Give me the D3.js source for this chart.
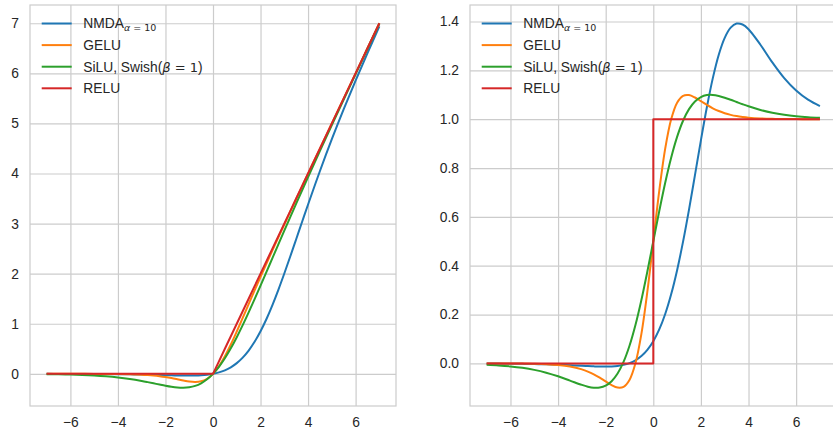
<!DOCTYPE html>
<html>
<head>
<meta charset="utf-8">
<script src="https://cdn.jsdelivr.net/npm/d3@7"></script>
<style>
    body { margin: 0; background: #fff; }
    text { font-family: "Liberation Sans", Arial, sans-serif; fill: #262626; }
</style>
</head>
<body>
<script>
// x positions shared by every series (denser near zero)
let xs = [-7, -6.5, -6, -5.5, -5, -4.5, -4, -3.5,
    -3, -2.75, -2.5, -2.25, -2, -1.75, -1.5, -1.25, -1, -0.75, -0.5, -0.25,
    0, 0.25, 0.5, 0.75, 1, 1.25, 1.5, 1.75, 2, 2.25, 2.5, 2.75, 3,
    3.25, 3.5, 3.75, 4, 4.5, 5, 5.5, 6, 6.5, 7];

// left panel: activation values
let nmda = [-0.0006, -0.0010, -0.0015, -0.0022, -0.0034, -0.0050, -0.0073, -0.0105,
    -0.0149, -0.0175, -0.0204, -0.0235, -0.0267, -0.0299, -0.0327, -0.0348, -0.0355, -0.0338, -0.0286, -0.0181,
    0, 0.0285, 0.0708, 0.1310, 0.2137, 0.3234, 0.4642, 0.6392, 0.8498, 1.0954, 1.3730, 1.6776, 2.0028,
    2.3419, 2.6882, 3.0360, 3.3808, 4.0501, 4.6844, 5.2841, 5.8549, 6.4037, 6.9367];
let gelu = [0, -0.0001, -0.0002, -0.0005, -0.0010, -0.0021, -0.0044, -0.0090,
    -0.0181, -0.0253, -0.0350, -0.0478, -0.0643, -0.0847, -0.1083, -0.1330, -0.1542, -0.1636, -0.1496, -0.0988,
    0, 0.1512, 0.3504, 0.5864, 0.8458, 1.1170, 1.3917, 1.6653, 1.9357, 2.2022, 2.4650, 2.7247, 2.9819,
    3.2372, 3.4910, 3.7437, 3.9956, 4.4979, 4.9990, 5.4995, 5.9998, 6.4999, 7.0];
let silu = [-0.0064, -0.0098, -0.0148, -0.0224, -0.0335, -0.0494, -0.0719, -0.1026,
    -0.1423, -0.1652, -0.1896, -0.2145, -0.2384, -0.2591, -0.2736, -0.2784, -0.2689, -0.2406, -0.1888, -0.1095,
    0, 0.1405, 0.3112, 0.5094, 0.7311, 0.9716, 1.2264, 1.4909, 1.7616, 2.0355, 2.3104, 2.5848, 2.8577,
    3.1287, 3.3974, 3.6638, 3.9281, 4.4506, 4.9665, 5.4776, 5.9852, 6.4902, 6.9936];
let relu = [0, 0, 0, 0, 0, 0, 0, 0,
    0, 0, 0, 0, 0, 0, 0, 0, 0, 0, 0, 0,
    0, 0.25, 0.5, 0.75, 1, 1.25, 1.5, 1.75, 2, 2.25, 2.5, 2.75, 3,
    3.25, 3.5, 3.75, 4, 4.5, 5, 5.5, 6, 6.5, 7];

// right panel: derivatives
let nmdaGrad = [-0.0005, -0.0008, -0.0012, -0.0018, -0.0027, -0.0039, -0.0055, -0.0075,
    -0.0098, -0.0110, -0.0120, -0.0128, -0.0130, -0.0123, -0.0102, -0.0060, 0.0013, 0.0128, 0.0302, 0.0555,
    0.0909, 0.1390, 0.2023, 0.2829, 0.3818, 0.4985, 0.6300, 0.7710, 0.9136, 1.0490, 1.1681, 1.2642, 1.3333,
    1.3749, 1.3916, 1.3877, 1.3686, 1.3050, 1.2326, 1.1682, 1.1174, 1.0800, 1.0536];
let geluGrad = [-0.0001, -0.0002, -0.0003, -0.0007, -0.0015, -0.0031, -0.0064, -0.0127,
    -0.0246, -0.0334, -0.0447, -0.0584, -0.0738, -0.0888, -0.0988, -0.0959, -0.0678, 0.0004, 0.1208, 0.2935,
    0.5, 0.7065, 0.8792, 0.9996, 1.0678, 1.0959, 1.0988, 1.0888, 1.0738, 1.0584, 1.0447, 1.0334, 1.0246,
    1.0178, 1.0127, 1.0091, 1.0064, 1.0031, 1.0015, 1.0007, 1.0003, 1.0002, 1.0001];
let siluGrad = [-0.0055, -0.0082, -0.0123, -0.0182, -0.0265, -0.0379, -0.0527, -0.0703,
    -0.0881, -0.0952, -0.0994, -0.0987, -0.0908, -0.0727, -0.0413, 0.0063, 0.0723, 0.1574, 0.2600, 0.3763,
    0.5, 0.6237, 0.7400, 0.8426, 0.9277, 0.9937, 1.0413, 1.0727, 1.0908, 1.0987, 1.0994, 1.0952, 1.0881,
    1.0795, 1.0703, 1.0612, 1.0527, 1.0379, 1.0265, 1.0182, 1.0123, 1.0082, 1.0055];
let reluGrad = [0, 0, 0, 0, 0, 0, 0, 0,
    0, 0, 0, 0, 0, 0, 0, 0, 0, 0, 0, 0,
    1, 1, 1, 1, 1, 1, 1, 1, 1, 1, 1, 1, 1,
    1, 1, 1, 1, 1, 1, 1, 1, 1, 1];

let names = ["NMDA", "GELU", "SiLU, Swish(", "RELU"];
let colors = ["#1f77b4", "#ff7f0e", "#2ca02c", "#d62728"];

let xTicks = [-6, -4, -2, 0, 2, 4, 6];
let leftYTicks = [0, 1, 2, 3, 4, 5, 6, 7];
let rightYTicks = [0, 0.2, 0.4, 0.6, 0.8, 1.0, 1.2, 1.4];

let plotTop = 5, plotBottom = 406;

let svg = d3.select("body").append("svg")
    .attr("width", 833)
    .attr("height", 434);

function drawPanel(left, right, yDomain, yTicks, yFormat, series, lastCurve) {
    let xScale = d3.scaleLinear().domain([-7.7, 7.7]).range([left, right]);
    let yScale = d3.scaleLinear().domain(yDomain).range([plotBottom, plotTop]);
    let g = svg.append("g");

    // grid + tick labels
    g.append("g")
        .attr("transform", "translate(0," + plotBottom + ")")
        .call(d3.axisBottom(xScale).tickValues(xTicks).tickSize(-(plotBottom - plotTop)).tickPadding(11))
        .call(function (a) { a.select(".domain").remove(); });
    g.append("g")
        .attr("transform", "translate(" + left + ",0)")
        .call(d3.axisLeft(yScale).tickValues(yTicks).tickFormat(yFormat).tickSize(-(right - left)).tickPadding(11))
        .call(function (a) { a.select(".domain").remove(); });
    g.selectAll(".tick line").attr("stroke", "#cccccc").attr("stroke-width", 1.2);
    g.selectAll(".tick text").style("font-size", "13.8px").attr("fill", "#262626")
        .style("font-family", "'Liberation Sans', Arial, sans-serif");

    g.append("rect")
        .attr("x", left).attr("y", plotTop)
        .attr("width", right - left).attr("height", plotBottom - plotTop)
        .attr("fill", "none").attr("stroke", "#cccccc").attr("stroke-width", 1.2);

    series.forEach(function (values, i) {
        let line = d3.line()
            .x(function (d, j) { return xScale(xs[j]); })
            .y(function (d) { return yScale(d); })
            .curve(i === 3 ? lastCurve : d3.curveCatmullRom.alpha(0.5));
        g.append("path")
            .datum(values)
            .attr("fill", "none")
            .attr("stroke", colors[i])
            .attr("stroke-width", 2)
            .attr("stroke-linejoin", "round")
            .attr("d", line);
    });

    // legend
    names.forEach(function (name, i) {
        let y = 23.5 + i * 21.6;
        g.append("line")
            .attr("x1", left + 11.7).attr("x2", left + 41.7)
            .attr("y1", y).attr("y2", y)
            .attr("stroke", colors[i]).attr("stroke-width", 2);
        let t = g.append("text")
            .attr("x", left + 53.3).attr("y", y).attr("dy", "0.35em")
            .style("font-size", "13.8px")
            .text(name);
        if (i === 0) {
            t.append("tspan").attr("dy", 2.6).style("font-size", "9.5px")
                .style("font-family", "DejaVu Sans").style("font-style", "italic").text("α");
            t.append("tspan").style("font-size", "9.5px")
                .style("font-family", "DejaVu Sans").text(" = 10");
        }
        if (i === 2) {
            t.append("tspan").style("font-family", "DejaVu Sans").style("font-style", "italic")
                .style("font-size", "13px").text("β");
            t.append("tspan").style("font-family", "DejaVu Sans")
                .style("font-size", "13px").text(" = 1");
            t.append("tspan").text(")");
        }
    });
}

drawPanel(30, 396, [-0.642, 7.364], leftYTicks, d3.format("d"),
    [nmda, gelu, silu, relu], d3.curveLinear);
drawPanel(470, 836.6, [-0.1744, 1.4676], rightYTicks, d3.format(".1f"),
    [nmdaGrad, geluGrad, siluGrad, reluGrad], d3.curveStepAfter);
</script>
</body>
</html>
